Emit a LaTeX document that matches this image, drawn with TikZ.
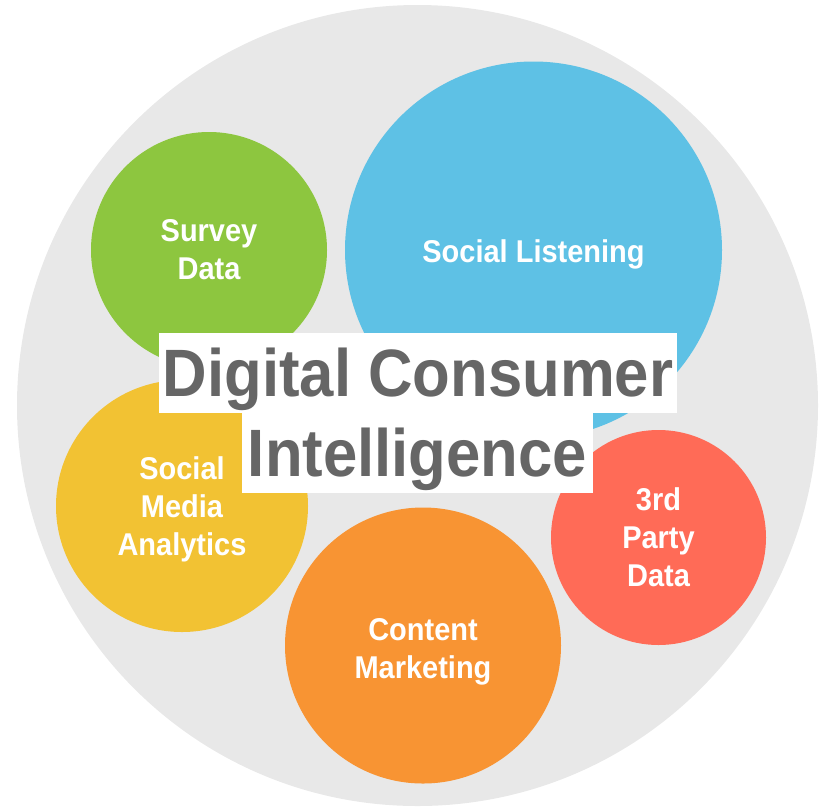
\documentclass[tikz,border=0pt]{standalone}
\usepackage{fontspec}
\setmainfont{Liberation Sans}[FakeStretch=0.92]
\definecolor{bgray}{HTML}{E8E8E8}
\definecolor{cgreen}{HTML}{8DC63F}
\definecolor{cblue}{HTML}{5EC1E5}
\definecolor{cyellow}{HTML}{F2C233}
\definecolor{corange}{HTML}{F89433}
\definecolor{cred}{HTML}{FF6B57}
\definecolor{tgray}{HTML}{666666}
\begin{document}
\begin{tikzpicture}[x=1pt,y=-1pt,
  bubble/.style={circle,draw=none,inner sep=0pt},
  bubbletext/.style={inner sep=0pt,text=white,align=center,
    font=\fontsize{31.5}{38}\selectfont\bfseries},
  titlebox/.style={rectangle,fill=white,draw=none,inner sep=0pt,
    text height=63pt,text depth=17pt,
    text=tgray,font=\fontsize{67}{80}\selectfont\bfseries}]
\useasboundingbox (0,0) rectangle (829,807);
\node[circle,fill=bgray,minimum size=801pt,inner sep=0pt] (bg) at (417.5,405.5) {};
\node[bubble,fill=cgreen,minimum size=236pt] (survey) at (209,250) {};
\node[bubble,fill=cblue,minimum size=377pt] (listen) at (533.5,250) {};
\node[bubble,fill=cyellow,minimum size=252pt] (sma) at (182,506) {};
\node[bubble,fill=corange,minimum size=276pt] (content) at (423,645.5) {};
\node[bubble,fill=cred,minimum size=215pt] (third) at (658.5,537.5) {};
\node[bubbletext] (surveytext) at (survey.center) {Survey\\Data};
\node[bubbletext] (listentext) at ([yshift=-4pt]listen.center) {Social Listening};
\node[bubbletext] (smatext) at ([yshift=-3pt]sma.center) {Social\\Media\\Analytics};
\node[bubbletext] (contenttext) at ([yshift=-6pt]content.center) {Content\\Marketing};
\node[bubbletext] (thirdtext) at (third.center) {3rd\\Party\\Data};
\node[titlebox,minimum width=518pt] (t1) at (418,373) {Digital Consumer};
\node[titlebox,minimum width=351pt] (t2) at (417.5,453) {Intelligence};
\end{tikzpicture}
\end{document}
